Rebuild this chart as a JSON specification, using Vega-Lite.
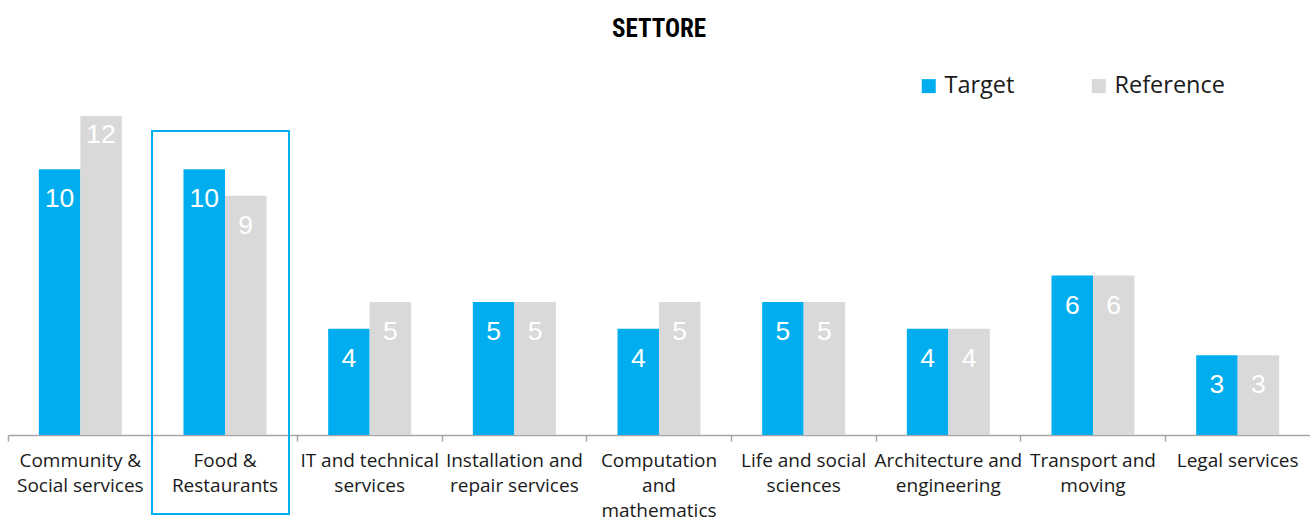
{
  "$schema": "https://vega.github.io/schema/vega-lite/v6.json",
  "autosize": {"type": "none"},
  "padding": {"left": 8, "top": 116, "right": 0, "bottom": 86},
  "width": 1302,
  "height": 319,
  "background": "white",
  "title": {
    "text": "SETTORE",
    "font": "Roboto Condensed, DejaVu Sans Condensed, Liberation Sans",
    "fontSize": 25,
    "fontWeight": "bold",
    "color": "#000000",
    "anchor": "middle",
    "offset": 32
  },
  "config": {
    "view": {"stroke": null},
    "axis": {"grid": false}
  },
  "data": {
    "values": [
      {"category": "Community & Social services", "series": "Target", "value": 10},
      {"category": "Community & Social services", "series": "Reference", "value": 12},
      {"category": "Food & Restaurants", "series": "Target", "value": 10},
      {"category": "Food & Restaurants", "series": "Reference", "value": 9},
      {"category": "IT and technical services", "series": "Target", "value": 4},
      {"category": "IT and technical services", "series": "Reference", "value": 5},
      {"category": "Installation and repair services", "series": "Target", "value": 5},
      {"category": "Installation and repair services", "series": "Reference", "value": 5},
      {"category": "Computation and mathematics", "series": "Target", "value": 4},
      {"category": "Computation and mathematics", "series": "Reference", "value": 5},
      {"category": "Life and social sciences", "series": "Target", "value": 5},
      {"category": "Life and social sciences", "series": "Reference", "value": 5},
      {"category": "Architecture and engineering", "series": "Target", "value": 4},
      {"category": "Architecture and engineering", "series": "Reference", "value": 4},
      {"category": "Transport and moving", "series": "Target", "value": 6},
      {"category": "Transport and moving", "series": "Reference", "value": 6},
      {"category": "Legal services", "series": "Target", "value": 3},
      {"category": "Legal services", "series": "Reference", "value": 3}
    ]
  },
  "encoding": {
    "x": {
      "field": "category",
      "type": "nominal",
      "sort": null,
      "scale": {"paddingInner": 0, "paddingOuter": 0},
      "axis": {
        "title": null,
        "bandPosition": 0,
        "domainColor": "#a6a6a6",
        "domainWidth": 1.5,
        "tickColor": "#a6a6a6",
        "tickWidth": 1.5,
        "tickSize": 6,
        "labelAngle": 0,
        "labelFont": "Open Sans",
        "labelFontSize": 19,
        "labelColor": "#1a1a1a",
        "labelLineHeight": 25,
        "labelPadding": 10,
        "labelLimit": 200,
        "labelExpr": "datum.value == 'Community & Social services' ? ['Community &','Social services'] : datum.value == 'Food & Restaurants' ? ['Food &','Restaurants'] : datum.value == 'IT and technical services' ? ['IT and technical','services'] : datum.value == 'Installation and repair services' ? ['Installation and','repair services'] : datum.value == 'Computation and mathematics' ? ['Computation','and','mathematics'] : datum.value == 'Life and social sciences' ? ['Life and social','sciences'] : datum.value == 'Architecture and engineering' ? ['Architecture and','engineering'] : datum.value == 'Transport and moving' ? ['Transport and','moving'] : datum.value"
      }
    }
  },
  "layer": [
    {
      "mark": {"type": "bar"},
      "encoding": {
        "xOffset": {"field": "series", "type": "nominal", "sort": ["Target", "Reference"], "scale": {"paddingInner": 0, "paddingOuter": 0.743}},
        "y": {"field": "value", "type": "quantitative", "scale": {"domain": [0, 12], "nice": false}, "axis": null},
        "color": {
          "field": "series",
          "type": "nominal",
          "sort": ["Target", "Reference"],
          "scale": {"domain": ["Target", "Reference"], "range": ["#00AEEF", "#D9D9D9"]},
          "legend": {
            "title": null,
            "orient": "none",
            "legendX": 909,
            "legendY": -42,
            "direction": "horizontal",
            "symbolType": "square",
            "symbolSize": 196,
            "symbolStrokeWidth": 0,
            "labelFont": "Open Sans",
            "labelFontSize": 23.5,
            "labelColor": "#1a1a1a",
            "labelOffset": 4,
            "columnPadding": 72
          }
        }
      }
    },
    {
      "transform": [{"filter": "datum.value < 12"}],
      "mark": {"type": "text", "baseline": "alphabetic", "align": "center", "dy": 38, "font": "Liberation Sans", "fontSize": 26.5, "color": "white"},
      "encoding": {
        "xOffset": {"field": "series", "type": "nominal", "sort": ["Target", "Reference"], "scale": {"paddingInner": 0, "paddingOuter": 0.743}},
        "y": {"field": "value", "type": "quantitative"},
        "text": {"field": "value", "type": "quantitative"}
      }
    },
    {
      "transform": [{"filter": "datum.value >= 12"}],
      "mark": {"type": "text", "baseline": "alphabetic", "align": "center", "dy": 27, "font": "Liberation Sans", "fontSize": 26.5, "color": "white"},
      "encoding": {
        "xOffset": {"field": "series", "type": "nominal", "sort": ["Target", "Reference"], "scale": {"paddingInner": 0, "paddingOuter": 0.743}},
        "y": {"field": "value", "type": "quantitative"},
        "text": {"field": "value", "type": "quantitative"}
      }
    },
    {
      "transform": [{"filter": "datum.category == 'Food & Restaurants' && datum.series == 'Target'"}],
      "mark": {"type": "bar", "width": 137, "xOffset": -4.5, "fill": "transparent", "stroke": "#00AEEF", "strokeWidth": 2, "clip": false},
      "encoding": {
        "y": {"datum": 11.436, "type": "quantitative"},
        "y2": {"datum": -2.972}
      }
    }
  ]
}
